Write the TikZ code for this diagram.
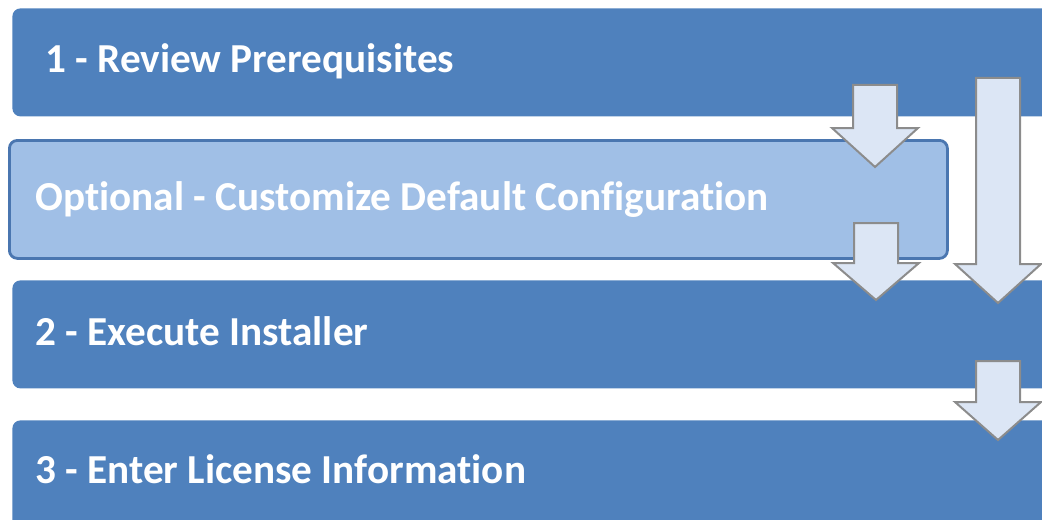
\documentclass[tikz,border=0pt]{standalone}
\usepackage{fontspec}
\setmainfont[Ligatures=NoCommon]{Carlito}
\usetikzlibrary{positioning}

\definecolor{stepblue}{HTML}{4F81BD}
\definecolor{optblue}{HTML}{A0BFE6}
\definecolor{optedge}{HTML}{4A76B0}
\definecolor{arrowfill}{HTML}{DCE6F5}
\definecolor{arrowedge}{HTML}{8C8C8C}

% down arrow: centre x, shaft top, head start, tip
\newcommand{\dnarrow}[4]{%
  \draw[flowarrow] ({#1-22},#2) -- ({#1+22},#2) -- ({#1+22},#3) -- ({#1+43},#3)
    -- (#1,#4) -- ({#1-43},#3) -- ({#1-22},#3) -- cycle;}

\begin{document}
\begin{tikzpicture}[
    x=0.5pt, y=-0.5pt, % one unit = one pixel of the layout
    stepbox/.style={
        fill=stepblue, % plain step fill
        rounded corners=4pt,
        minimum width=524pt,
        minimum height=54pt,
        anchor=north west,
        inner sep=0pt
    },
    optbox/.style={
        stepbox,
        fill=optblue, % the optional step is lighter
        draw=optedge,
        line width=1.4pt,
        minimum width=469pt,
        minimum height=59pt
    },
    steptext/.style={
        anchor=base west,
        text=white,
        font=\bfseries\fontsize{20.6}{22}\selectfont,
        inner sep=0pt
    },
    flowarrow/.style={
        fill=arrowfill,
        draw=arrowedge,
        line width=1pt,
        line join=miter
    }
]
\useasboundingbox (0,0) rectangle (1042,519);
\clip (0,0) rectangle (1042,519);

% the steps
\node[stepbox] (review) at (12,8) {};
\node[stepbox] (execute) at (12,280) {};
\node[stepbox] (license) at (12,420) {};
\node[optbox] (custom) at (8,139) {};

\node[steptext] (reviewtext) at (45,73) {1 - Review Prerequisites};
\node[steptext] (customtext) at (35,210) {Optional - Customize Default Configuration};
\node[steptext] (executetext) at (35,345) {2 - Execute Installer};
\node[steptext] (licensetext) at (35,483) {3 - Enter License Information};

% arrows between the steps
\dnarrow{875}{85}{128}{167}
\dnarrow{876}{223}{263}{300}
\dnarrow{998}{78}{264}{303}
\dnarrow{998}{361}{402}{440}
\end{tikzpicture}
\end{document}
